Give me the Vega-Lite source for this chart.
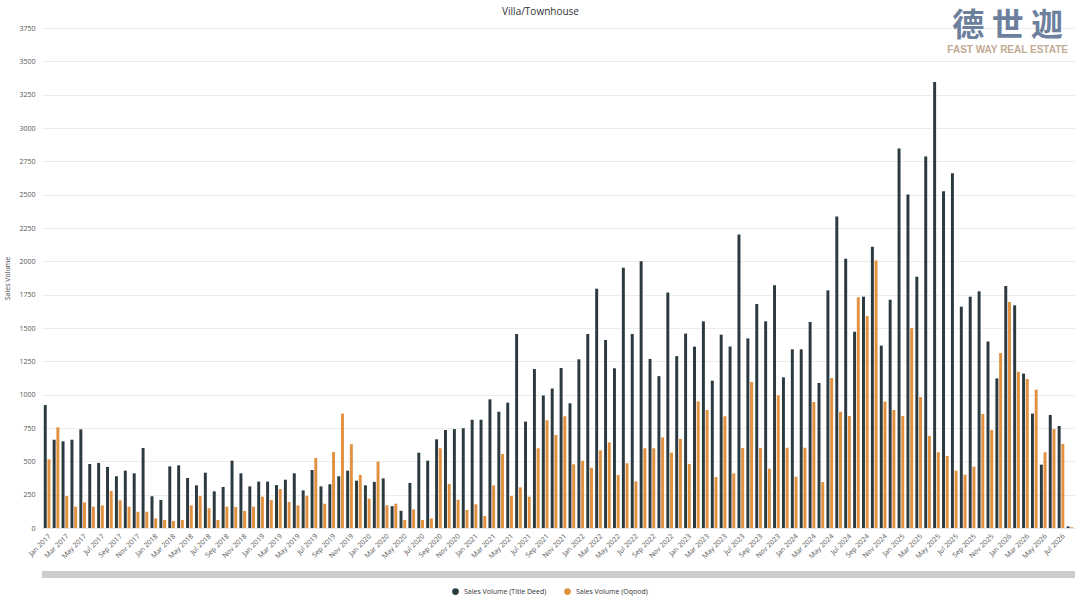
{
  "$schema": "https://vega.github.io/schema/vega-lite/v6.json",
  "width": 1033,
  "height": 500,
  "autosize": {"type": "none"},
  "padding": {"left": 42, "top": 28, "right": 5, "bottom": 80},
  "background": "white",
  "config": {"view": {"stroke": null}, "font": "Open Sans"},
  "title": {"text": "Villa/Townhouse", "fontSize": 10, "fontWeight": "normal", "color": "#333333", "offset": 3, "dx": -18, "dy": 10},
  "data": {"values": [
    {"month":"Jan 2017","series":"Sales Volume (Title Deed)","volume":922},{"month":"Jan 2017","series":"Sales Volume (Oqood)","volume":515},
    {"month":"Feb 2017","series":"Sales Volume (Title Deed)","volume":662},{"month":"Feb 2017","series":"Sales Volume (Oqood)","volume":755},
    {"month":"Mar 2017","series":"Sales Volume (Title Deed)","volume":650},{"month":"Mar 2017","series":"Sales Volume (Oqood)","volume":240},
    {"month":"Apr 2017","series":"Sales Volume (Title Deed)","volume":662},{"month":"Apr 2017","series":"Sales Volume (Oqood)","volume":160},
    {"month":"May 2017","series":"Sales Volume (Title Deed)","volume":740},{"month":"May 2017","series":"Sales Volume (Oqood)","volume":192},
    {"month":"Jun 2017","series":"Sales Volume (Title Deed)","volume":480},{"month":"Jun 2017","series":"Sales Volume (Oqood)","volume":160},
    {"month":"Jul 2017","series":"Sales Volume (Title Deed)","volume":488},{"month":"Jul 2017","series":"Sales Volume (Oqood)","volume":170},
    {"month":"Aug 2017","series":"Sales Volume (Title Deed)","volume":458},{"month":"Aug 2017","series":"Sales Volume (Oqood)","volume":278},
    {"month":"Sep 2017","series":"Sales Volume (Title Deed)","volume":388},{"month":"Sep 2017","series":"Sales Volume (Oqood)","volume":208},
    {"month":"Oct 2017","series":"Sales Volume (Title Deed)","volume":430},{"month":"Oct 2017","series":"Sales Volume (Oqood)","volume":160},
    {"month":"Nov 2017","series":"Sales Volume (Title Deed)","volume":410},{"month":"Nov 2017","series":"Sales Volume (Oqood)","volume":122},
    {"month":"Dec 2017","series":"Sales Volume (Title Deed)","volume":600},{"month":"Dec 2017","series":"Sales Volume (Oqood)","volume":122},
    {"month":"Jan 2018","series":"Sales Volume (Title Deed)","volume":238},{"month":"Jan 2018","series":"Sales Volume (Oqood)","volume":72},
    {"month":"Feb 2018","series":"Sales Volume (Title Deed)","volume":210},{"month":"Feb 2018","series":"Sales Volume (Oqood)","volume":60},
    {"month":"Mar 2018","series":"Sales Volume (Title Deed)","volume":462},{"month":"Mar 2018","series":"Sales Volume (Oqood)","volume":52},
    {"month":"Apr 2018","series":"Sales Volume (Title Deed)","volume":470},{"month":"Apr 2018","series":"Sales Volume (Oqood)","volume":60},
    {"month":"May 2018","series":"Sales Volume (Title Deed)","volume":375},{"month":"May 2018","series":"Sales Volume (Oqood)","volume":170},
    {"month":"Jun 2018","series":"Sales Volume (Title Deed)","volume":320},{"month":"Jun 2018","series":"Sales Volume (Oqood)","volume":240},
    {"month":"Jul 2018","series":"Sales Volume (Title Deed)","volume":415},{"month":"Jul 2018","series":"Sales Volume (Oqood)","volume":148},
    {"month":"Aug 2018","series":"Sales Volume (Title Deed)","volume":275},{"month":"Aug 2018","series":"Sales Volume (Oqood)","volume":60},
    {"month":"Sep 2018","series":"Sales Volume (Title Deed)","volume":308},{"month":"Sep 2018","series":"Sales Volume (Oqood)","volume":160},
    {"month":"Oct 2018","series":"Sales Volume (Title Deed)","volume":505},{"month":"Oct 2018","series":"Sales Volume (Oqood)","volume":158},
    {"month":"Nov 2018","series":"Sales Volume (Title Deed)","volume":410},{"month":"Nov 2018","series":"Sales Volume (Oqood)","volume":128},
    {"month":"Dec 2018","series":"Sales Volume (Title Deed)","volume":312},{"month":"Dec 2018","series":"Sales Volume (Oqood)","volume":160},
    {"month":"Jan 2019","series":"Sales Volume (Title Deed)","volume":348},{"month":"Jan 2019","series":"Sales Volume (Oqood)","volume":235},
    {"month":"Feb 2019","series":"Sales Volume (Title Deed)","volume":348},{"month":"Feb 2019","series":"Sales Volume (Oqood)","volume":210},
    {"month":"Mar 2019","series":"Sales Volume (Title Deed)","volume":322},{"month":"Mar 2019","series":"Sales Volume (Oqood)","volume":292},
    {"month":"Apr 2019","series":"Sales Volume (Title Deed)","volume":362},{"month":"Apr 2019","series":"Sales Volume (Oqood)","volume":195},
    {"month":"May 2019","series":"Sales Volume (Title Deed)","volume":410},{"month":"May 2019","series":"Sales Volume (Oqood)","volume":170},
    {"month":"Jun 2019","series":"Sales Volume (Title Deed)","volume":282},{"month":"Jun 2019","series":"Sales Volume (Oqood)","volume":242},
    {"month":"Jul 2019","series":"Sales Volume (Title Deed)","volume":435},{"month":"Jul 2019","series":"Sales Volume (Oqood)","volume":525},
    {"month":"Aug 2019","series":"Sales Volume (Title Deed)","volume":312},{"month":"Aug 2019","series":"Sales Volume (Oqood)","volume":182},
    {"month":"Sep 2019","series":"Sales Volume (Title Deed)","volume":328},{"month":"Sep 2019","series":"Sales Volume (Oqood)","volume":570},
    {"month":"Oct 2019","series":"Sales Volume (Title Deed)","volume":388},{"month":"Oct 2019","series":"Sales Volume (Oqood)","volume":858},
    {"month":"Nov 2019","series":"Sales Volume (Title Deed)","volume":430},{"month":"Nov 2019","series":"Sales Volume (Oqood)","volume":628},
    {"month":"Dec 2019","series":"Sales Volume (Title Deed)","volume":355},{"month":"Dec 2019","series":"Sales Volume (Oqood)","volume":398},
    {"month":"Jan 2020","series":"Sales Volume (Title Deed)","volume":320},{"month":"Jan 2020","series":"Sales Volume (Oqood)","volume":220},
    {"month":"Feb 2020","series":"Sales Volume (Title Deed)","volume":346},{"month":"Feb 2020","series":"Sales Volume (Oqood)","volume":498},
    {"month":"Mar 2020","series":"Sales Volume (Title Deed)","volume":372},{"month":"Mar 2020","series":"Sales Volume (Oqood)","volume":170},
    {"month":"Apr 2020","series":"Sales Volume (Title Deed)","volume":164},{"month":"Apr 2020","series":"Sales Volume (Oqood)","volume":182},
    {"month":"May 2020","series":"Sales Volume (Title Deed)","volume":129},{"month":"May 2020","series":"Sales Volume (Oqood)","volume":60},
    {"month":"Jun 2020","series":"Sales Volume (Title Deed)","volume":338},{"month":"Jun 2020","series":"Sales Volume (Oqood)","volume":140},
    {"month":"Jul 2020","series":"Sales Volume (Title Deed)","volume":565},{"month":"Jul 2020","series":"Sales Volume (Oqood)","volume":60},
    {"month":"Aug 2020","series":"Sales Volume (Title Deed)","volume":505},{"month":"Aug 2020","series":"Sales Volume (Oqood)","volume":72},
    {"month":"Sep 2020","series":"Sales Volume (Title Deed)","volume":665},{"month":"Sep 2020","series":"Sales Volume (Oqood)","volume":598},
    {"month":"Oct 2020","series":"Sales Volume (Title Deed)","volume":735},{"month":"Oct 2020","series":"Sales Volume (Oqood)","volume":330},
    {"month":"Nov 2020","series":"Sales Volume (Title Deed)","volume":742},{"month":"Nov 2020","series":"Sales Volume (Oqood)","volume":212},
    {"month":"Dec 2020","series":"Sales Volume (Title Deed)","volume":748},{"month":"Dec 2020","series":"Sales Volume (Oqood)","volume":135},
    {"month":"Jan 2021","series":"Sales Volume (Title Deed)","volume":812},{"month":"Jan 2021","series":"Sales Volume (Oqood)","volume":178},
    {"month":"Feb 2021","series":"Sales Volume (Title Deed)","volume":812},{"month":"Feb 2021","series":"Sales Volume (Oqood)","volume":90},
    {"month":"Mar 2021","series":"Sales Volume (Title Deed)","volume":965},{"month":"Mar 2021","series":"Sales Volume (Oqood)","volume":320},
    {"month":"Apr 2021","series":"Sales Volume (Title Deed)","volume":872},{"month":"Apr 2021","series":"Sales Volume (Oqood)","volume":555},
    {"month":"May 2021","series":"Sales Volume (Title Deed)","volume":940},{"month":"May 2021","series":"Sales Volume (Oqood)","volume":240},
    {"month":"Jun 2021","series":"Sales Volume (Title Deed)","volume":1455},{"month":"Jun 2021","series":"Sales Volume (Oqood)","volume":305},
    {"month":"Jul 2021","series":"Sales Volume (Title Deed)","volume":798},{"month":"Jul 2021","series":"Sales Volume (Oqood)","volume":235},
    {"month":"Aug 2021","series":"Sales Volume (Title Deed)","volume":1192},{"month":"Aug 2021","series":"Sales Volume (Oqood)","volume":598},
    {"month":"Sep 2021","series":"Sales Volume (Title Deed)","volume":994},{"month":"Sep 2021","series":"Sales Volume (Oqood)","volume":808},
    {"month":"Oct 2021","series":"Sales Volume (Title Deed)","volume":1046},{"month":"Oct 2021","series":"Sales Volume (Oqood)","volume":698},
    {"month":"Nov 2021","series":"Sales Volume (Title Deed)","volume":1200},{"month":"Nov 2021","series":"Sales Volume (Oqood)","volume":838},
    {"month":"Dec 2021","series":"Sales Volume (Title Deed)","volume":935},{"month":"Dec 2021","series":"Sales Volume (Oqood)","volume":478},
    {"month":"Jan 2022","series":"Sales Volume (Title Deed)","volume":1265},{"month":"Jan 2022","series":"Sales Volume (Oqood)","volume":505},
    {"month":"Feb 2022","series":"Sales Volume (Title Deed)","volume":1455},{"month":"Feb 2022","series":"Sales Volume (Oqood)","volume":452},
    {"month":"Mar 2022","series":"Sales Volume (Title Deed)","volume":1795},{"month":"Mar 2022","series":"Sales Volume (Oqood)","volume":582},
    {"month":"Apr 2022","series":"Sales Volume (Title Deed)","volume":1410},{"month":"Apr 2022","series":"Sales Volume (Oqood)","volume":642},
    {"month":"May 2022","series":"Sales Volume (Title Deed)","volume":1198},{"month":"May 2022","series":"Sales Volume (Oqood)","volume":398},
    {"month":"Jun 2022","series":"Sales Volume (Title Deed)","volume":1952},{"month":"Jun 2022","series":"Sales Volume (Oqood)","volume":485},
    {"month":"Jul 2022","series":"Sales Volume (Title Deed)","volume":1455},{"month":"Jul 2022","series":"Sales Volume (Oqood)","volume":350},
    {"month":"Aug 2022","series":"Sales Volume (Title Deed)","volume":2000},{"month":"Aug 2022","series":"Sales Volume (Oqood)","volume":598},
    {"month":"Sep 2022","series":"Sales Volume (Title Deed)","volume":1268},{"month":"Sep 2022","series":"Sales Volume (Oqood)","volume":598},
    {"month":"Oct 2022","series":"Sales Volume (Title Deed)","volume":1139},{"month":"Oct 2022","series":"Sales Volume (Oqood)","volume":680},
    {"month":"Nov 2022","series":"Sales Volume (Title Deed)","volume":1766},{"month":"Nov 2022","series":"Sales Volume (Oqood)","volume":565},
    {"month":"Dec 2022","series":"Sales Volume (Title Deed)","volume":1289},{"month":"Dec 2022","series":"Sales Volume (Oqood)","volume":668},
    {"month":"Jan 2023","series":"Sales Volume (Title Deed)","volume":1458},{"month":"Jan 2023","series":"Sales Volume (Oqood)","volume":480},
    {"month":"Feb 2023","series":"Sales Volume (Title Deed)","volume":1360},{"month":"Feb 2023","series":"Sales Volume (Oqood)","volume":950},
    {"month":"Mar 2023","series":"Sales Volume (Title Deed)","volume":1550},{"month":"Mar 2023","series":"Sales Volume (Oqood)","volume":885},
    {"month":"Apr 2023","series":"Sales Volume (Title Deed)","volume":1105},{"month":"Apr 2023","series":"Sales Volume (Oqood)","volume":382},
    {"month":"May 2023","series":"Sales Volume (Title Deed)","volume":1450},{"month":"May 2023","series":"Sales Volume (Oqood)","volume":838},
    {"month":"Jun 2023","series":"Sales Volume (Title Deed)","volume":1361},{"month":"Jun 2023","series":"Sales Volume (Oqood)","volume":410},
    {"month":"Jul 2023","series":"Sales Volume (Title Deed)","volume":2202},{"month":"Jul 2023","series":"Sales Volume (Oqood)","volume":600},
    {"month":"Aug 2023","series":"Sales Volume (Title Deed)","volume":1422},{"month":"Aug 2023","series":"Sales Volume (Oqood)","volume":1095},
    {"month":"Sep 2023","series":"Sales Volume (Title Deed)","volume":1680},{"month":"Sep 2023","series":"Sales Volume (Oqood)","volume":600},
    {"month":"Oct 2023","series":"Sales Volume (Title Deed)","volume":1550},{"month":"Oct 2023","series":"Sales Volume (Oqood)","volume":445},
    {"month":"Nov 2023","series":"Sales Volume (Title Deed)","volume":1821},{"month":"Nov 2023","series":"Sales Volume (Oqood)","volume":995},
    {"month":"Dec 2023","series":"Sales Volume (Title Deed)","volume":1130},{"month":"Dec 2023","series":"Sales Volume (Oqood)","volume":602},
    {"month":"Jan 2024","series":"Sales Volume (Title Deed)","volume":1340},{"month":"Jan 2024","series":"Sales Volume (Oqood)","volume":385},
    {"month":"Feb 2024","series":"Sales Volume (Title Deed)","volume":1340},{"month":"Feb 2024","series":"Sales Volume (Oqood)","volume":602},
    {"month":"Mar 2024","series":"Sales Volume (Title Deed)","volume":1545},{"month":"Mar 2024","series":"Sales Volume (Oqood)","volume":945},
    {"month":"Apr 2024","series":"Sales Volume (Title Deed)","volume":1088},{"month":"Apr 2024","series":"Sales Volume (Oqood)","volume":345},
    {"month":"May 2024","series":"Sales Volume (Title Deed)","volume":1782},{"month":"May 2024","series":"Sales Volume (Oqood)","volume":1125},
    {"month":"Jun 2024","series":"Sales Volume (Title Deed)","volume":2337},{"month":"Jun 2024","series":"Sales Volume (Oqood)","volume":872},
    {"month":"Jul 2024","series":"Sales Volume (Title Deed)","volume":2020},{"month":"Jul 2024","series":"Sales Volume (Oqood)","volume":840},
    {"month":"Aug 2024","series":"Sales Volume (Title Deed)","volume":1472},{"month":"Aug 2024","series":"Sales Volume (Oqood)","volume":1730},
    {"month":"Sep 2024","series":"Sales Volume (Title Deed)","volume":1735},{"month":"Sep 2024","series":"Sales Volume (Oqood)","volume":1590},
    {"month":"Oct 2024","series":"Sales Volume (Title Deed)","volume":2110},{"month":"Oct 2024","series":"Sales Volume (Oqood)","volume":2007},
    {"month":"Nov 2024","series":"Sales Volume (Title Deed)","volume":1368},{"month":"Nov 2024","series":"Sales Volume (Oqood)","volume":948},
    {"month":"Dec 2024","series":"Sales Volume (Title Deed)","volume":1712},{"month":"Dec 2024","series":"Sales Volume (Oqood)","volume":885},
    {"month":"Jan 2025","series":"Sales Volume (Title Deed)","volume":2847},{"month":"Jan 2025","series":"Sales Volume (Oqood)","volume":840},
    {"month":"Feb 2025","series":"Sales Volume (Title Deed)","volume":2502},{"month":"Feb 2025","series":"Sales Volume (Oqood)","volume":1500},
    {"month":"Mar 2025","series":"Sales Volume (Title Deed)","volume":1885},{"month":"Mar 2025","series":"Sales Volume (Oqood)","volume":982},
    {"month":"Apr 2025","series":"Sales Volume (Title Deed)","volume":2787},{"month":"Apr 2025","series":"Sales Volume (Oqood)","volume":690},
    {"month":"May 2025","series":"Sales Volume (Title Deed)","volume":3345},{"month":"May 2025","series":"Sales Volume (Oqood)","volume":568},
    {"month":"Jun 2025","series":"Sales Volume (Title Deed)","volume":2525},{"month":"Jun 2025","series":"Sales Volume (Oqood)","volume":540},
    {"month":"Jul 2025","series":"Sales Volume (Title Deed)","volume":2660},{"month":"Jul 2025","series":"Sales Volume (Oqood)","volume":430},
    {"month":"Aug 2025","series":"Sales Volume (Title Deed)","volume":1660},{"month":"Aug 2025","series":"Sales Volume (Oqood)","volume":400},
    {"month":"Sep 2025","series":"Sales Volume (Title Deed)","volume":1735},{"month":"Sep 2025","series":"Sales Volume (Oqood)","volume":460},
    {"month":"Oct 2025","series":"Sales Volume (Title Deed)","volume":1775},{"month":"Oct 2025","series":"Sales Volume (Oqood)","volume":855},
    {"month":"Nov 2025","series":"Sales Volume (Title Deed)","volume":1399},{"month":"Nov 2025","series":"Sales Volume (Oqood)","volume":735},
    {"month":"Dec 2025","series":"Sales Volume (Title Deed)","volume":1122},{"month":"Dec 2025","series":"Sales Volume (Oqood)","volume":1312},
    {"month":"Jan 2026","series":"Sales Volume (Title Deed)","volume":1815},{"month":"Jan 2026","series":"Sales Volume (Oqood)","volume":1695},
    {"month":"Feb 2026","series":"Sales Volume (Title Deed)","volume":1670},{"month":"Feb 2026","series":"Sales Volume (Oqood)","volume":1172},
    {"month":"Mar 2026","series":"Sales Volume (Title Deed)","volume":1158},{"month":"Mar 2026","series":"Sales Volume (Oqood)","volume":1118},
    {"month":"Apr 2026","series":"Sales Volume (Title Deed)","volume":858},{"month":"Apr 2026","series":"Sales Volume (Oqood)","volume":1038},
    {"month":"May 2026","series":"Sales Volume (Title Deed)","volume":475},{"month":"May 2026","series":"Sales Volume (Oqood)","volume":568},
    {"month":"Jun 2026","series":"Sales Volume (Title Deed)","volume":848},{"month":"Jun 2026","series":"Sales Volume (Oqood)","volume":742},
    {"month":"Jul 2026","series":"Sales Volume (Title Deed)","volume":765},{"month":"Jul 2026","series":"Sales Volume (Oqood)","volume":630},
    {"month":"Aug 2026","series":"Sales Volume (Title Deed)","volume":12},{"month":"Aug 2026","series":"Sales Volume (Oqood)","volume":6}
  ]},
  "layer": [
    {
      "mark": {"type": "bar"},
      "encoding": {
        "x": {
          "field": "month",
          "type": "ordinal",
          "sort": null,
          "scale": {
            "paddingInner": 0.25,
            "paddingOuter": 0.2,
            "domain": ["Jan 2017","Feb 2017","Mar 2017","Apr 2017","May 2017","Jun 2017","Jul 2017","Aug 2017","Sep 2017","Oct 2017","Nov 2017","Dec 2017",
                       "Jan 2018","Feb 2018","Mar 2018","Apr 2018","May 2018","Jun 2018","Jul 2018","Aug 2018","Sep 2018","Oct 2018","Nov 2018","Dec 2018",
                       "Jan 2019","Feb 2019","Mar 2019","Apr 2019","May 2019","Jun 2019","Jul 2019","Aug 2019","Sep 2019","Oct 2019","Nov 2019","Dec 2019",
                       "Jan 2020","Feb 2020","Mar 2020","Apr 2020","May 2020","Jun 2020","Jul 2020","Aug 2020","Sep 2020","Oct 2020","Nov 2020","Dec 2020",
                       "Jan 2021","Feb 2021","Mar 2021","Apr 2021","May 2021","Jun 2021","Jul 2021","Aug 2021","Sep 2021","Oct 2021","Nov 2021","Dec 2021",
                       "Jan 2022","Feb 2022","Mar 2022","Apr 2022","May 2022","Jun 2022","Jul 2022","Aug 2022","Sep 2022","Oct 2022","Nov 2022","Dec 2022",
                       "Jan 2023","Feb 2023","Mar 2023","Apr 2023","May 2023","Jun 2023","Jul 2023","Aug 2023","Sep 2023","Oct 2023","Nov 2023","Dec 2023",
                       "Jan 2024","Feb 2024","Mar 2024","Apr 2024","May 2024","Jun 2024","Jul 2024","Aug 2024","Sep 2024","Oct 2024","Nov 2024","Dec 2024",
                       "Jan 2025","Feb 2025","Mar 2025","Apr 2025","May 2025","Jun 2025","Jul 2025","Aug 2025","Sep 2025","Oct 2025","Nov 2025","Dec 2025",
                       "Jan 2026","Feb 2026","Mar 2026","Apr 2026","May 2026","Jun 2026","Jul 2026","Aug 2026"]
          },
          "axis": {
            "title": null,
            "values": ["Jan 2017","Mar 2017","May 2017","Jul 2017","Sep 2017","Nov 2017",
                       "Jan 2018","Mar 2018","May 2018","Jul 2018","Sep 2018","Nov 2018",
                       "Jan 2019","Mar 2019","May 2019","Jul 2019","Sep 2019","Nov 2019",
                       "Jan 2020","Mar 2020","May 2020","Jul 2020","Sep 2020","Nov 2020",
                       "Jan 2021","Mar 2021","May 2021","Jul 2021","Sep 2021","Nov 2021",
                       "Jan 2022","Mar 2022","May 2022","Jul 2022","Sep 2022","Nov 2022",
                       "Jan 2023","Mar 2023","May 2023","Jul 2023","Sep 2023","Nov 2023",
                       "Jan 2024","Mar 2024","May 2024","Jul 2024","Sep 2024","Nov 2024",
                       "Jan 2025","Mar 2025","May 2025","Jul 2025","Sep 2025","Nov 2025",
                       "Jan 2026","Mar 2026","May 2026","Jul 2026"],
            "labelAngle": -45,
            "labelFontSize": 7,
            "labelColor": "#555555",
            "labelPadding": 4,
            "ticks": false,
            "domain": true,
            "domainColor": "#e6e6e6",
            "grid": false
          }
        },
        "xOffset": {
          "field": "series",
          "type": "nominal",
          "sort": ["Sales Volume (Title Deed)", "Sales Volume (Oqood)"],
          "scale": {"paddingInner": 0.2}
        },
        "y": {
          "field": "volume",
          "type": "quantitative",
          "scale": {"domain": [0, 3750], "nice": false},
          "axis": {
            "title": "Sales Volume",
            "titleFontSize": 7,
            "titleFontWeight": "normal",
            "titleColor": "#444444",
            "titlePadding": 8,
            "values": [0,250,500,750,1000,1250,1500,1750,2000,2250,2500,2750,3000,3250,3500,3750],
            "format": "d",
            "labelOverlap": false,
            "labelFontSize": 7,
            "labelColor": "#555555",
            "labelPadding": 7,
            "domain": false,
            "ticks": false,
            "gridColor": "#ececec"
          }
        },
        "color": {
          "field": "series",
          "type": "nominal",
          "scale": {
            "domain": ["Sales Volume (Title Deed)", "Sales Volume (Oqood)"],
            "range": ["#2b3a40", "#e1913f"]
          },
          "legend": {
            "title": null,
            "orient": "none",
            "direction": "horizontal",
            "legendX": 409,
            "legendY": 559,
            "symbolType": "circle",
            "symbolSize": 45,
            "labelFontSize": 7,
            "labelColor": "#333333",
            "columnPadding": 16
          }
        }
      }
    },
    {
      "data": {"values": [{}]},
      "mark": {"type": "rect", "color": "#cccccc", "clip": false},
      "encoding": {
        "y": {
          "datum": -322,
          "type": "quantitative",
          "axis": {
            "title": "Sales Volume",
            "titleFontSize": 7,
            "titleFontWeight": "normal",
            "titleColor": "#444444",
            "titlePadding": 8,
            "values": [0,250,500,750,1000,1250,1500,1750,2000,2250,2500,2750,3000,3250,3500,3750],
            "format": "d",
            "labelOverlap": false,
            "labelFontSize": 7,
            "labelColor": "#555555",
            "labelPadding": 7,
            "domain": false,
            "ticks": false,
            "gridColor": "#ececec"
          }
        },
        "y2": {"datum": -375}
      }
    },
    {
      "data": {"values": [{}]},
      "mark": {"type": "text", "text": "德 世 迦", "font": "Noto Sans CJK SC", "fontWeight": "bold", "fontSize": 32, "color": "#6c7f9c", "align": "center", "baseline": "bottom"},
      "encoding": {
        "x": {"datum": "Jan 2026", "type": "ordinal"},
        "y": {
          "datum": 3640,
          "type": "quantitative",
          "axis": {
            "title": "Sales Volume",
            "titleFontSize": 7,
            "titleFontWeight": "normal",
            "titleColor": "#444444",
            "titlePadding": 8,
            "values": [0,250,500,750,1000,1250,1500,1750,2000,2250,2500,2750,3000,3250,3500,3750],
            "format": "d",
            "labelOverlap": false,
            "labelFontSize": 7,
            "labelColor": "#555555",
            "labelPadding": 7,
            "domain": false,
            "ticks": false,
            "gridColor": "#ececec"
          }
        }
      }
    },
    {
      "data": {"values": [{}]},
      "mark": {"type": "text", "text": "FAST WAY REAL ESTATE", "font": "Liberation Sans", "fontWeight": "bold", "fontSize": 10, "color": "#c2ab95", "align": "center", "baseline": "bottom"},
      "encoding": {
        "x": {"datum": "Jan 2026", "type": "ordinal"},
        "y": {
          "datum": 3550,
          "type": "quantitative",
          "axis": {
            "title": "Sales Volume",
            "titleFontSize": 7,
            "titleFontWeight": "normal",
            "titleColor": "#444444",
            "titlePadding": 8,
            "values": [0,250,500,750,1000,1250,1500,1750,2000,2250,2500,2750,3000,3250,3500,3750],
            "format": "d",
            "labelOverlap": false,
            "labelFontSize": 7,
            "labelColor": "#555555",
            "labelPadding": 7,
            "domain": false,
            "ticks": false,
            "gridColor": "#ececec"
          }
        }
      }
    }
  ]
}
